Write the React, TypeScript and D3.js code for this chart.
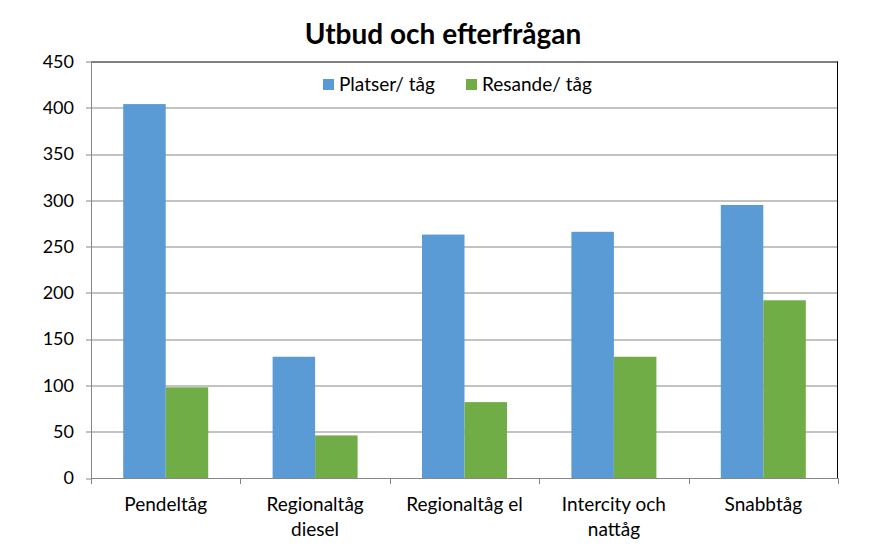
import { useEffect, useRef } from 'react';
import * as d3 from 'd3';

const categories = ['Pendeltåg', 'Regionaltåg diesel', 'Regionaltåg el', 'Intercity och nattåg', 'Snabbtåg'];
const categoryLines = [['Pendeltåg'], ['Regionaltåg', 'diesel'], ['Regionaltåg el'], ['Intercity och', 'nattåg'], ['Snabbtåg']];
const seriesNames = ['Platser/ tåg', 'Resande/ tåg'];
const platser = [404, 131, 263, 266, 295];
const resande = [98, 46, 82, 131, 192];
const yTicks = [0, 50, 100, 150, 200, 250, 300, 350, 400, 450];
const colors = ['#5B9BD5', '#70AD47'];

export default function App() {
  const svgRef = useRef<SVGSVGElement>(null);

  useEffect(() => {
    if (!svgRef.current) return;
    const width = 885;
    const height = 554;
    const margin = { top: 61.5, right: 47, bottom: 76, left: 91 };
    const innerWidth = width - margin.left - margin.right;
    const innerHeight = height - margin.top - margin.bottom;
    const font = 'Lato, "Open Sans", sans-serif';

    const svg = d3.select(svgRef.current);
    svg.selectAll('*').remove();

    svg.append('text')
      .attr('x', 443)
      .attr('y', 44)
      .attr('text-anchor', 'middle')
      .style('font-family', font)
      .style('font-weight', 'bold')
      .style('font-size', '28px')
      .style('fill', '#000')
      .text('Utbud och efterfrågan');

    const g = svg.append('g').attr('transform', `translate(${margin.left},${margin.top})`);

    const x = d3.scaleBand().domain(categories).range([0, innerWidth]).paddingInner(0).paddingOuter(0);
    const x1 = d3.scaleBand().domain(seriesNames).range([x.bandwidth() * 0.2155, x.bandwidth() * 0.7845]);
    const y = d3.scaleLinear().domain([0, 450]).range([innerHeight, 0]);

    // gridlines
    g.selectAll('.grid')
      .data(yTicks.filter(t => t > 0 && t < 450))
      .join('line')
      .attr('x1', 0)
      .attr('x2', innerWidth)
      .attr('y1', d => Math.round(y(d)) + 0.5)
      .attr('y2', d => Math.round(y(d)) + 0.5)
      .attr('stroke', '#868686')
      .attr('stroke-width', 1);

    // bars
    const data = categories.map((c, i) => ({ c, vals: [platser[i], resande[i]] }));
    const groups = g.selectAll('.grp')
      .data(data)
      .join('g')
      .attr('transform', d => `translate(${x(d.c)},0)`);
    groups.selectAll('rect')
      .data(d => d.vals.map((v, j) => ({ v, j })))
      .join('rect')
      .attr('x', d => x1(seriesNames[d.j]) || 0)
      .attr('width', x1.bandwidth())
      .attr('y', d => y(d.v))
      .attr('height', d => innerHeight - y(d.v))
      .attr('fill', d => colors[d.j]);

    // border top / right (black)
    g.append('line').attr('x1', 0).attr('x2', innerWidth).attr('y1', 0.5).attr('y2', 0.5).attr('stroke', '#000');
    g.append('line').attr('x1', innerWidth - 0.5).attr('x2', innerWidth - 0.5).attr('y1', 0).attr('y2', innerHeight).attr('stroke', '#000');

    // y axis
    g.append('line').attr('x1', 0.5).attr('x2', 0.5).attr('y1', 0).attr('y2', innerHeight).attr('stroke', '#868686');
    g.selectAll('.ytick')
      .data(yTicks)
      .join('line')
      .attr('x1', -5)
      .attr('x2', 0)
      .attr('y1', d => Math.round(y(d)) + 0.5)
      .attr('y2', d => Math.round(y(d)) + 0.5)
      .attr('stroke', '#868686');
    g.selectAll('.ylab')
      .data(yTicks)
      .join('text')
      .attr('x', -17)
      .attr('y', d => y(d))
      .attr('dy', '0.35em')
      .attr('text-anchor', 'end')
      .style('font-family', font)
      .style('font-size', '18px')
      .style('fill', '#000')
      .text(d => d);

    // x axis
    g.append('line').attr('x1', 0).attr('x2', innerWidth).attr('y1', innerHeight + 0.5).attr('y2', innerHeight + 0.5).attr('stroke', '#868686');
    g.selectAll('.xtick')
      .data([...categories.map(c => x(c) || 0), innerWidth])
      .join('line')
      .attr('x1', d => Math.round(d) + 0.5)
      .attr('x2', d => Math.round(d) + 0.5)
      .attr('y1', innerHeight)
      .attr('y2', innerHeight + 6)
      .attr('stroke', '#868686');
    const xl = g.selectAll('.xlab')
      .data(categories)
      .join('text')
      .attr('transform', d => `translate(${(x(d) || 0) + x.bandwidth() / 2},${innerHeight + 33})`)
      .attr('text-anchor', 'middle')
      .style('font-family', font)
      .style('font-size', '19px')
      .style('fill', '#000');
    xl.selectAll('tspan')
      .data((d, i) => categoryLines[i])
      .join('tspan')
      .attr('x', 0)
      .attr('dy', (d, i) => (i === 0 ? 0 : 25))
      .text(d => d);

    // legend
    const legend = g.append('g');
    const legendItems = [
      { name: seriesNames[0], x: 232, color: colors[0] },
      { name: seriesNames[1], x: 375, color: colors[1] },
    ];
    legend.append('rect').attr('x', 224).attr('y', 8).attr('width', 300).attr('height', 30).attr('fill', '#fff');
    legendItems.forEach(it => {
      legend.append('rect').attr('x', it.x).attr('y', 17.5).attr('width', 11).attr('height', 11).attr('fill', it.color);
      legend.append('text')
        .attr('x', it.x + 16)
        .attr('y', 23)
        .attr('dy', '0.35em')
        .style('font-family', font)
        .style('font-size', '19px')
        .style('fill', '#000')
        .text(it.name);
    });
  }, []);

  return (
    <svg
      ref={svgRef}
      width={885}
      height={554}
      style={{ position: 'absolute', left: 0, top: 0, background: '#fff' }}
    />
  );
}
